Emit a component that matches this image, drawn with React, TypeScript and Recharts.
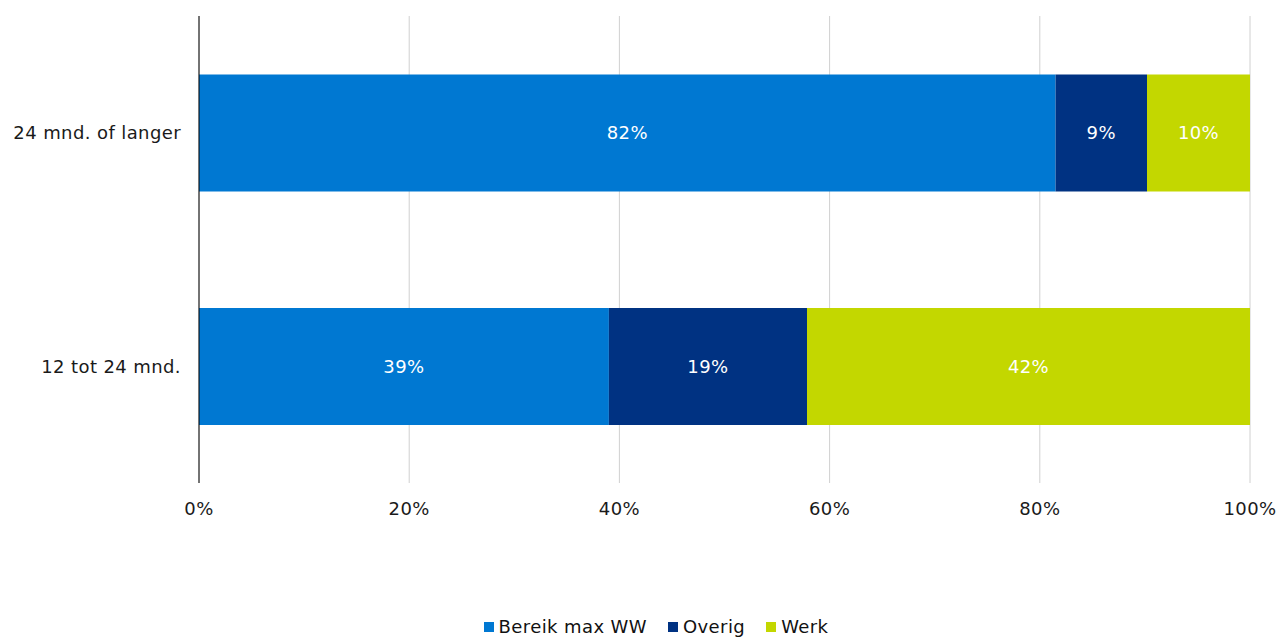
import { BarChart, Bar, XAxis, YAxis, CartesianGrid, Legend, LabelList } from "recharts";

const categories = ["24 mnd. of langer", "12 tot 24 mnd."];
const bereikMaxWW = [81.5, 39.0];
const overig = [8.7, 18.85];
const werk = [9.8, 42.15];
const xTicks = [0, 20, 40, 60, 80, 100];

const series = [
  { key: "bereik", name: "Bereik max WW", color: "#0078d2" },
  { key: "overig", name: "Overig", color: "#003282" },
  { key: "werk", name: "Werk", color: "#c3d700" },
];

const data = categories.map((cat, i) => ({
  cat,
  bereik: bereikMaxWW[i],
  overig: overig[i],
  werk: werk[i],
}));

const font = "Verdana, 'DejaVu Sans', sans-serif";
const spacing = 0.4;
const pct = (v: any) => `${Math.round(Number(v))}%`;

const LegendContent = () => (
  <div
    style={{
      display: "flex",
      justifyContent: "center",
      gap: 21,
      paddingLeft: 62,
      fontFamily: font,
      fontSize: 18,
      letterSpacing: spacing,
      color: "#111",
      lineHeight: "20px",
    }}
  >
    {series.map((s) => (
      <div key={s.key} style={{ display: "flex", alignItems: "center", gap: 5 }}>
        <span style={{ width: 10, height: 10, background: s.color, display: "inline-block" }} />
        <span>{s.name}</span>
      </div>
    ))}
  </div>
);

const App = () => {
  return (
    <div style={{ position: "absolute", left: 0, top: 0, width: 1279, height: 637, background: "#fff" }}>
      <BarChart
        width={1279}
        height={637}
        data={data}
        layout="vertical"
        barCategoryGap="25%"
        margin={{ top: 16, right: 29, left: 0, bottom: 0 }}
      >
        <CartesianGrid horizontal={false} stroke="#d0d0d0" />
        <XAxis
          type="number"
          domain={[0, 100]}
          ticks={xTicks}
          tickFormatter={(v) => `${v}%`}
          axisLine={false}
          tickLine={false}
          tickMargin={13}
          height={134}
          interval={0}
          tick={{ fontSize: 18, fill: "#1a1a1a", fontFamily: font, letterSpacing: spacing }}
        />
        <YAxis
          type="category"
          dataKey="cat"
          width={199}
          axisLine={{ stroke: "#000" }}
          tickLine={false}
          tickMargin={12}
          tick={{ fontSize: 18, fill: "#1a1a1a", fontFamily: font, letterSpacing: spacing }}
        />
        <Legend verticalAlign="bottom" height={20} content={<LegendContent />} />
        {series.map((s) => (
          <Bar key={s.key} dataKey={s.key} name={s.name} stackId="a" fill={s.color} isAnimationActive={false}>
            <LabelList
              dataKey={s.key}
              position="center"
              formatter={pct}
              fill="#fff"
              style={{ fontSize: 18, fontFamily: font, letterSpacing: spacing }}
            />
          </Bar>
        ))}
      </BarChart>
    </div>
  );
};

export default App;
